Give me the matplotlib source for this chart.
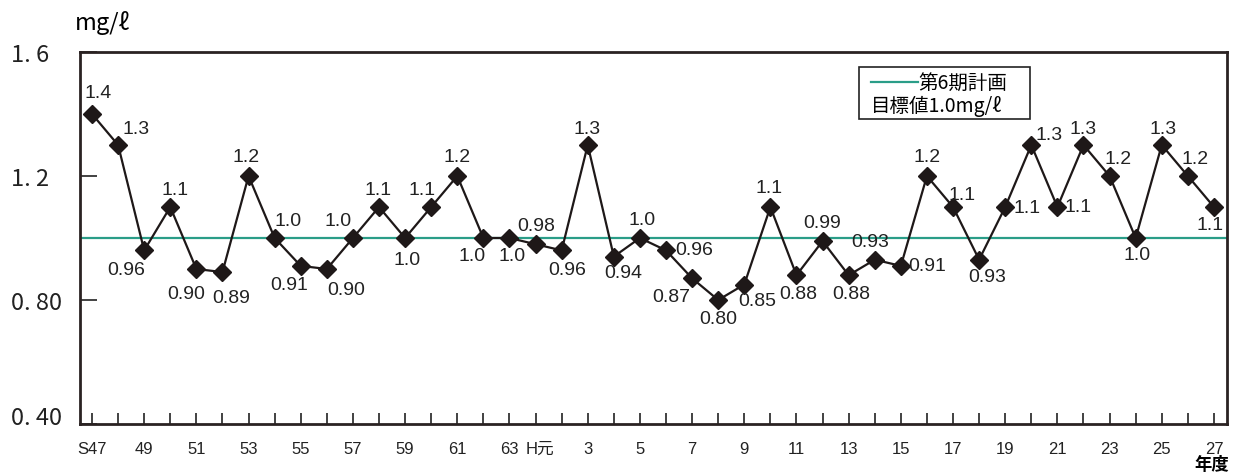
import matplotlib.pyplot as plt
from matplotlib.patches import Rectangle
from matplotlib.transforms import ScaledTranslation

# fiscal years S47 .. S63, H元 .. H27
years = ["S47", "48", "49", "50", "51", "52", "53", "54", "55", "56", "57", "58",
         "59", "60", "61", "62", "63", "H元", "2", "3", "4", "5", "6", "7", "8",
         "9", "10", "11", "12", "13", "14", "15", "16", "17", "18", "19", "20",
         "21", "22", "23", "24", "25", "26", "27"]
values = [1.4, 1.3, 0.96, 1.1, 0.90, 0.89, 1.2, 1.0, 0.91, 0.90, 1.0, 1.1,
          1.0, 1.1, 1.2, 1.0, 1.0, 0.98, 0.96, 1.3, 0.94, 1.0, 0.96, 0.87, 0.80,
          0.85, 1.1, 0.88, 0.99, 0.88, 0.93, 0.91, 1.2, 1.1, 0.93, 1.1, 1.3,
          1.1, 1.3, 1.2, 1.0, 1.3, 1.2, 1.1]
labels = ["1.4", "1.3", "0.96", "1.1", "0.90", "0.89", "1.2", "1.0", "0.91", "0.90",
          "1.0", "1.1", "1.0", "1.1", "1.2", "1.0", "1.0", "0.98", "0.96", "1.3",
          "0.94", "1.0", "0.96", "0.87", "0.80", "0.85", "1.1", "0.88", "0.99",
          "0.88", "0.93", "0.91", "1.2", "1.1", "0.93", "1.1", "1.3", "1.1", "1.3",
          "1.2", "1.0", "1.3", "1.2", "1.1"]
shown_years = ["S47", "49", "51", "53", "55", "57", "59", "61", "63", "H元",
               "3", "5", "7", "9", "11", "13", "15", "17", "19", "21", "23", "25", "27"]
target = 1.0
y_ticks = [0.4, 0.8, 1.2, 1.6]
y_tick_labels = ["0. 40", "0. 80", "1. 2", "1. 6"]

# label offsets in pixels (dx, dy up)
offsets = [(6, 21), (18, 16), (-18, -19), (5, 17), (-10, -25), (9, -25), (-2, 19),
           (13, 17), (-12, -19), (19, -21), (-15, 17), (-1, 17), (2, -22), (-9, 17),
           (0, 19), (-11, -18), (3, -18), (1, 19), (6, -19), (-1, 16), (9, -16),
           (2, 18), (28, 1), (-21, -18), (0, -19), (13, -16), (-1, 19), (2, -18),
           (0, 19), (3, -18), (-5, 18), (26, 0), (0, 19), (9, 12), (8, -17),
           (22, -1), (18, 10), (21, 0), (0, 16), (8, 17), (1, -17), (1, 16),
           (7, 17), (-4, -18)]

NUM = ["Liberation Sans", "Noto Sans CJK JP"]
CJK = ["Noto Sans CJK JP", "DejaVu Sans"]
GREEN = "#2a9d88"
INK = "#1e1818"

fig = plt.figure(figsize=(12.39, 4.77), dpi=100)
ax = fig.add_axes([80 / 1239, 1 - 425 / 477, 1147 / 1239, 372 / 477])

x = list(range(len(values)))
ax.axhline(target, color=GREEN, lw=1.6, zorder=1)
ax.plot(x, values, color=INK, lw=1.6, marker="D", ms=9, zorder=3)

for xi, v, lab, (dx, dy) in zip(x, values, labels, offsets):
    ax.annotate(lab, (xi, v), xytext=(dx, dy), textcoords="offset pixels",
                ha="center", va="center", fontsize=14, family=NUM, color="#222")

ax.set_xlim(-0.46, len(values) - 1 + 0.5)
ax.set_ylim(0.4, 1.6)

ax.set_xticks(x)
ax.set_xticklabels([y if y in shown_years else "" for y in years],
                   family=NUM, fontsize=12)
ax.tick_params(axis="x", direction="in", length=8, width=1.2, pad=12, colors="#222")
ax.set_yticks(y_ticks)
ax.set_yticklabels(y_tick_labels, family=CJK, fontsize=17)
ax.tick_params(axis="y", direction="in", length=12, width=1.2, pad=50, colors="#222")
for t in ax.get_yticklabels():
    t.set_horizontalalignment("left")
low = ax.get_yticklabels()[0]
low.set_transform(low.get_transform() + ScaledTranslation(0, 0.09, fig.dpi_scale_trans))
# small gap between "63" and "H元"
gen = ax.get_xticklabels()[years.index("H元")]
gen.set_transform(gen.get_transform() + ScaledTranslation(0.04, 0, fig.dpi_scale_trans))

for s in ax.spines.values():
    s.set_linewidth(2)
    s.set_color("#2a2222")

fig.text(75 / 1239, 1 - 23 / 477, "mg/ℓ", fontsize=17, family=CJK, ha="left", va="center")
fig.text(1212 / 1239, 1 - 465 / 477, "年度", fontsize=12.5, family=CJK, ha="center",
         va="center", fontweight="bold")

# target legend box
ax.add_patch(Rectangle((0.679, 0.820), 0.149, 0.140, transform=ax.transAxes,
                       fc="white", ec="#222", lw=1.2, zorder=4))
ax.plot([0.6896, 0.7306], [0.919, 0.919], transform=ax.transAxes, color=GREEN,
        lw=1.6, zorder=5)
ax.text(0.7306, 0.919, "第6期計画", transform=ax.transAxes, fontsize=14, family=CJK,
        ha="left", va="center", zorder=5)
ax.text(0.6896, 0.8575, "目標値1.0mg/ℓ", transform=ax.transAxes, fontsize=14,
        family=CJK, ha="left", va="center", zorder=5)

fig.savefig("out.png", dpi=100)
